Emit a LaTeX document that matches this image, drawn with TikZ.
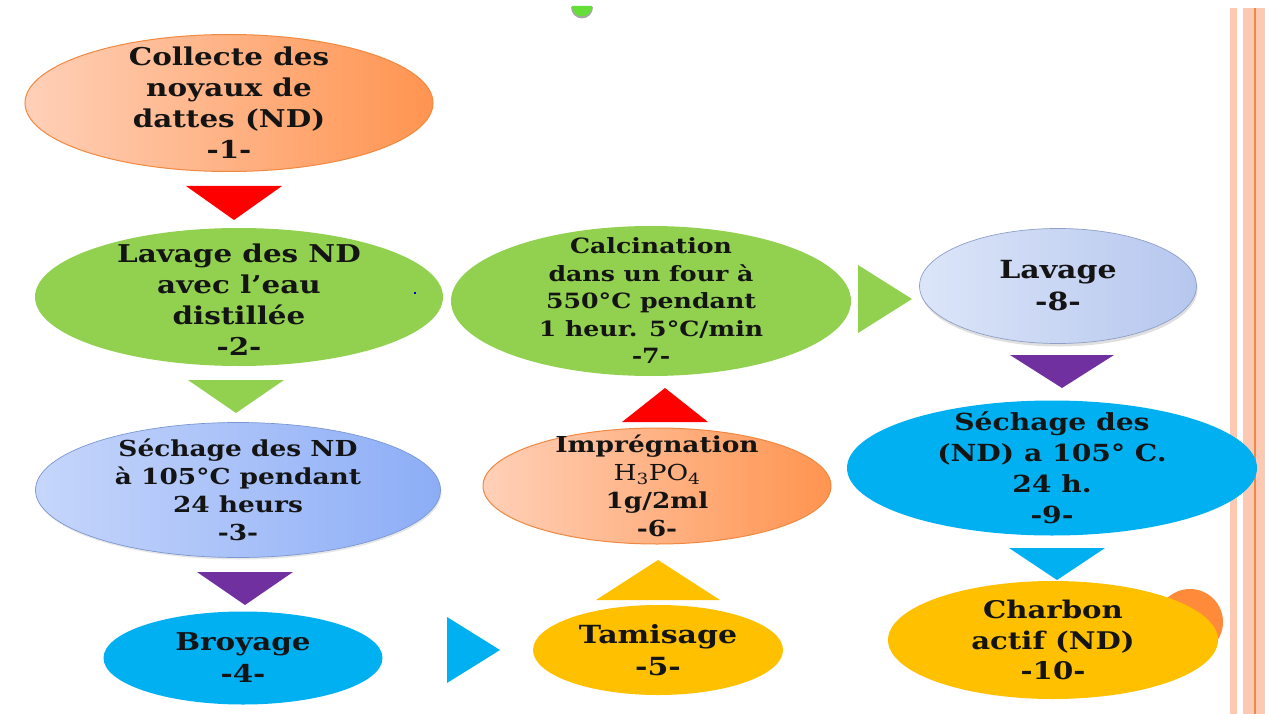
\documentclass[tikz,border=0pt]{standalone}
\usepackage{fontspec}
\setmainfont[FakeStretch=1.2]{DejaVu Serif}
\usetikzlibrary{calc,shapes.geometric,shadows}

\definecolor{rouge}{HTML}{FF0000}
\definecolor{vert}{HTML}{92D050}
\definecolor{violet}{HTML}{7030A0}
\definecolor{bleuciel}{HTML}{00B0F0}
\definecolor{jaune}{HTML}{FFC000}
\definecolor{orclair}{HTML}{FFD0B8}
\definecolor{orfonce}{HTML}{FF9450}
\definecolor{orbord}{HTML}{F08840}
\definecolor{bleuclair}{HTML}{C6D6FB}
\definecolor{bleufonce}{HTML}{8CADF6}
\definecolor{bleubord}{HTML}{7B96D2}
\definecolor{lavclair}{HTML}{DCE5F8}
\definecolor{lavfonce}{HTML}{B6C7EF}
\definecolor{lavbord}{HTML}{8E9FC6}
\definecolor{saumon}{HTML}{FDC9B3}
\definecolor{orligne}{HTML}{F08845}
\definecolor{ororb}{HTML}{FF8A3A}

% pointe : milieu de la base, sommet, demi-largeur, couleur
\newcommand{\fleche}[4]{\fill[#4] ($(#1)!#3!90:(#2)$) -- (#2) -- ($(#1)!#3!-90:(#2)$) -- cycle;}

\begin{document}
\begin{tikzpicture}[x=1pt,y=-1pt,
  etape/.style={ellipse,inner sep=0pt},
  orange/.style={left color=orclair,right color=orfonce,draw=orbord,line width=1pt},
  texte/.style={align=center,text=black!92,font=\bfseries\fontsize{24.5}{31}\selectfont}]
  \useasboundingbox (0,0) rectangle (1265,714);

  % bandes a droite
  \fill[saumon] (1230,8) rectangle (1237,714);
  \fill[saumon] (1243,8) rectangle (1265,714);
  \fill[orligne] (1254,8) rectangle (1256,714);
  % petit point vert en haut
  \fill[black!35] (571,7) arc (180:0:11 and 11.5) -- cycle;
  \fill[vert!70!green] (572,6) arc (180:0:10 and 10.5) -- cycle;

  % etapes
  \node[etape,orange,minimum width=408pt,minimum height=137pt] (collecte) at (229,103) {};
  \node[etape,minimum width=408pt,minimum height=138pt,fill=vert] (lavage) at (239,297) {};
  \node[etape,minimum width=405pt,minimum height=135pt,left color=bleuclair,right color=bleufonce,draw=bleubord,line width=0.7pt,
        drop shadow={opacity=0.2,shadow xshift=1pt,shadow yshift=-2pt}] (sechage) at (238,490) {};
  \node[etape,minimum width=279pt,minimum height=93pt,fill=bleuciel] (broyage) at (243,658) {};
  \node[etape,minimum width=250pt,minimum height=90pt,fill=jaune] (tamisage) at (658,650) {};
  \node[etape,orange,minimum width=348pt,minimum height=116pt] (impreg) at (657,486) {};
  \node[etape,minimum width=400pt,minimum height=150pt,fill=vert] (calcin) at (651,301) {};
  \node[etape,minimum width=277pt,minimum height=115pt,left color=lavclair,right color=lavfonce,draw=lavbord,line width=0.7pt,
        drop shadow={opacity=0.25,shadow xshift=1pt,shadow yshift=-3pt}] (lavage2) at (1058,286) {};
  \node[etape,minimum width=410pt,minimum height=135pt,fill=bleuciel] (sechage2) at (1052,468) {};
  \fill[ororb] (1190,622) circle (33);
  \node[etape,minimum width=330pt,minimum height=118pt,fill=jaune] (charbon) at (1053,640) {};
  \fill[blue!80!black] (414,292) rectangle (416,294);

  % textes
  \node[texte] at (collecte) {Collecte des\\noyaux de\\dattes (ND)\\-1-};
  \node[texte] at ([yshift=-3pt]lavage) {Lavage des ND\\avec l'eau\\distillée\\-2-};
  \node[texte,font=\bfseries\fontsize{22}{28}\selectfont] at (sechage) {Séchage des ND\\à 105°C pendant\\24 heurs\\-3-};
  \node[texte,font=\bfseries\fontsize{24.5}{32}\selectfont] at (broyage) {Broyage\\-4-};
  \node[texte,font=\bfseries\fontsize{25}{32}\selectfont] at (tamisage) {Tamisage\\-5-};
  \node[texte,font=\bfseries\fontsize{22}{28}\selectfont] at (impreg) {Imprégnation\\{\mdseries H\textsubscript{3}PO\textsubscript{4}}\\1g/2ml\\-6-};
  \node[texte,font=\bfseries\fontsize{21}{27.5}\selectfont] at (calcin) {Calcination\\dans un four à\\550°C pendant\\1 heur. 5°C/min\\-7-};
  \node[texte,font=\bfseries\fontsize{25}{32}\selectfont] at (lavage2) {Lavage\\-8-};
  \node[texte,font=\bfseries\fontsize{23.5}{31}\selectfont] at (sechage2) {Séchage des\\(ND) a 105° C.\\24 h.\\-9-};
  \node[texte,font=\bfseries\fontsize{24.3}{30.5}\selectfont] at (charbon) {Charbon\\actif (ND)\\-10-};

  % fleches
  \fleche{234,186}{234,220}{48pt}{rouge}
  \fleche{236,380}{236,413}{48pt}{vert}
  \fleche{245,572}{245,605}{48pt}{violet}
  \fleche{447,650}{500,650}{33pt}{bleuciel}
  \fleche{658,600}{658,560}{62pt}{jaune}
  \fleche{665,422}{665,388}{43pt}{rouge}
  \fleche{858,299}{912,299}{34pt}{vert}
  \fleche{1062,355}{1062,388}{52pt}{violet}
  \fleche{1057,548}{1057,580}{48pt}{bleuciel}
\end{tikzpicture}
\end{document}
